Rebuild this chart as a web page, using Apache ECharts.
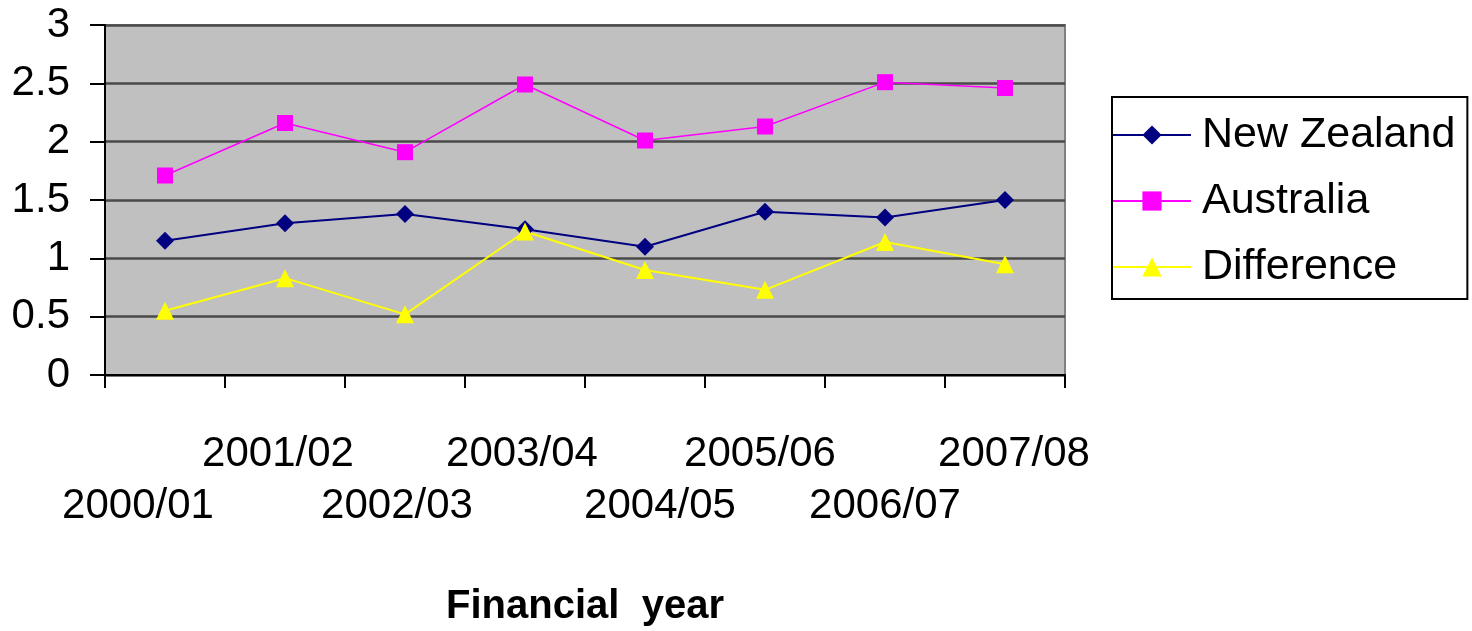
<!DOCTYPE html>
<html>
<head>
<meta charset="utf-8">
<script src="https://cdn.jsdelivr.net/npm/echarts@6/dist/echarts.min.js"></script>
<style>
html,body{margin:0;padding:0;background:#fff;}
#chart{width:1472px;height:631px;}
</style>
</head>
<body>
<div id="chart"></div>
<script>
const categories = ['2000/01','2001/02','2002/03','2003/04','2004/05','2005/06','2006/07','2007/08'];
const newZealand = [1.15, 1.30, 1.38, 1.25, 1.10, 1.40, 1.35, 1.50];
const australia = [1.71, 2.16, 1.91, 2.49, 2.01, 2.13, 2.51, 2.46];
const difference = [0.55, 0.83, 0.52, 1.23, 0.90, 0.73, 1.14, 0.95];
const yTicks = [0, 0.5, 1, 1.5, 2, 2.5, 3];

const FONT = '"Liberation Sans", Arial, sans-serif';
// small horizontal nudges of the category labels (Excel-style placement)
const labelShift = [-27, -7, -8, -3, 15, -5, 0, 9];
const rich = {};
labelShift.forEach(function (d, i) {
  rich['s' + i] = {
    fontFamily: FONT, fontSize: 42, color: '#000', lineHeight: 52,
    padding: d < 0 ? [0, -2 * d, 0, 0] : [0, 0, 0, 2 * d]
  };
});

const chart = echarts.init(document.getElementById('chart'));
chart.setOption({
  animation: false,
  backgroundColor: '#ffffff',
  grid: {
    left: 105, right: 407, top: 25, bottom: 256,
    outerBoundsMode: 'none',
    containLabel: false,
    show: true, backgroundColor: '#C0C0C0', borderColor: '#808080', borderWidth: 2
  },
  legend: {
    left: 1112, top: 97,
    orient: 'vertical',
    padding: [14, 12, 8, 0],
    itemGap: 18,
    itemWidth: 78, itemHeight: 24,
    borderColor: '#000', borderWidth: 2,
    backgroundColor: '#fff',
    textStyle: { fontFamily: FONT, fontSize: 43, color: '#000', lineHeight: 48, padding: [0, 0, 0, 6] },
    data: ['New Zealand', 'Australia', 'Difference']
  },
  xAxis: {
    type: 'category',
    data: categories,
    boundaryGap: true,
    name: 'Financial  year',
    nameLocation: 'middle',
    nameGap: 212,
    nameTextStyle: { fontFamily: FONT, fontSize: 40, fontWeight: 'bold', color: '#000' },
    axisLine: { lineStyle: { color: '#000', width: 2 } },
    axisTick: { show: true, length: 13, lineStyle: { color: '#000', width: 2 } },
    axisLabel: {
      interval: 0,
      margin: 53,
      fontFamily: FONT, fontSize: 42, color: '#000', lineHeight: 52,
      formatter: function (v, i) {
        const t = '{s' + i + '|' + v + '}';
        return i % 2 === 0 ? '\n' + t : t;
      },
      rich: rich
    },
    splitLine: { show: false }
  },
  yAxis: {
    type: 'value',
    min: yTicks[0], max: yTicks[yTicks.length - 1], interval: 0.5,
    axisLine: { show: true, lineStyle: { color: '#000', width: 2 } },
    axisTick: { show: true, length: 15, lineStyle: { color: '#000', width: 2 } },
    axisLabel: { margin: 35, fontFamily: FONT, fontSize: 42, color: '#000' },
    splitLine: { show: true, lineStyle: { color: '#4a4a4a', width: 2.5 } }
  },
  series: [
    {
      name: 'New Zealand', type: 'line', data: newZealand,
      symbol: 'diamond', symbolSize: 18,
      lineStyle: { color: '#000080', width: 2 },
      itemStyle: { color: '#000080' }
    },
    {
      name: 'Australia', type: 'line', data: australia,
      symbol: 'rect', symbolSize: 16,
      lineStyle: { color: '#FF00FF', width: 1.5 },
      itemStyle: { color: '#FF00FF' }
    },
    {
      name: 'Difference', type: 'line', data: difference,
      symbol: 'triangle', symbolSize: 18,
      lineStyle: { color: '#FFFF00', width: 2 },
      itemStyle: { color: '#FFFF00' }
    }
  ]
});
</script>
</body>
</html>
